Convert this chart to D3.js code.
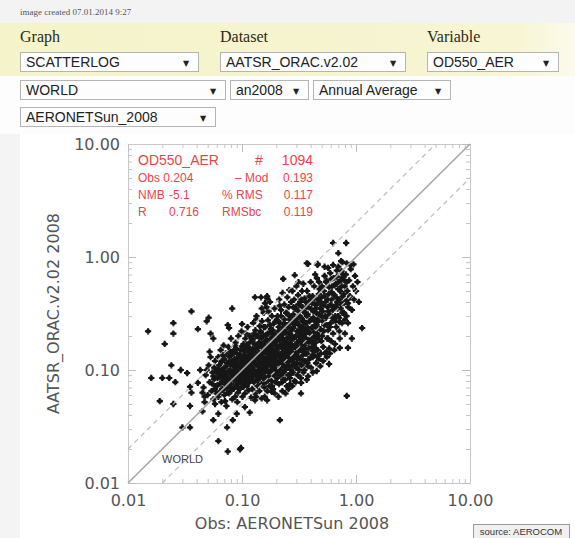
<!DOCTYPE html>
<html>
<head>
<meta charset="utf-8">
<script src="https://cdn.jsdelivr.net/npm/d3@7"></script>
<style>
  html, body { margin: 0; padding: 0; background: #f4f4f4; }
  svg { display: block; }
</style>
</head>
<body>
<div id="chart"></div>
<script>
// Header form values
const createdText = "image created 07.01.2014 9:27";
const headerLabels = ["Graph", "Dataset", "Variable"];
const row1Options = ["SCATTERLOG", "AATSR_ORAC.v2.02", "OD550_AER"];
const row2Options = ["WORLD", "an2008", "Annual Average"];
const row3Options = ["AERONETSun_2008"];

// Axis ticks
const majorTicks = [0.01, 0.1, 1, 10];
const tickLabels = ["0.01", "0.10", "1.00", "10.00"];
const xTitle = "Obs: AERONETSun 2008";
const yTitle = "AATSR_ORAC.v2.02 2008";
const regionName = "WORLD";

// Statistics box
const statsTitle = ["OD550_AER", "#", "1094"];
const statsLines = [
    ["Obs 0.204", "", "\u2013 Mod", "0.193"],
    ["NMB", "-5.1", "% RMS", "0.117"],
    ["R", "0.716", "RMSbc", "0.119"]
];

// Scattered points away from the main cloud [obs, mod]
const haloPoints = [
    [0.015,0.22],[0.025,0.26],[0.025,0.21],[0.021,0.17],[0.036,0.33],[0.041,0.23],[0.051,0.29],
    [0.049,0.27],[0.053,0.21],[0.056,0.19],[0.082,0.35],[0.075,0.25],[0.077,0.235],[0.1,0.255],
    [0.13,0.44],[0.147,0.44],[0.166,0.43],[0.159,0.39],[0.149,0.35],[0.133,0.28],[0.23,0.64],
    [0.29,0.69],[0.38,0.87],[0.46,0.87],[0.63,1.33],[0.82,1.33],[0.7,1.08],[0.74,0.92],
    [0.37,0.88],[0.46,0.85],[0.53,0.82],[0.63,0.85],[0.89,0.85],[0.77,0.66],[0.83,0.6],
    [0.85,0.42],[0.85,0.39],[0.8,0.28],[0.85,0.26],[0.72,0.265],[1.13,0.235],[0.26,0.51],
    [0.166,0.45],[0.57,0.19],[0.92,0.19],[0.455,0.235],
    [0.016,0.085],[0.02,0.085],[0.023,0.085],[0.019,0.053],[0.025,0.05],[0.03,0.031],
    [0.035,0.031],[0.062,0.0235],[0.062,0.041],[0.074,0.031],[0.215,0.036],[0.098,0.0204],
    [0.035,0.048],[0.045,0.043],[0.056,0.036],[0.075,0.019],[0.096,0.0199],[0.083,0.036],
    [0.09,0.041],[0.106,0.047],[0.117,0.042],[0.13,0.054],[0.149,0.056],[0.83,0.059],
    [0.58,0.113],[0.55,0.144],[0.72,0.157],[0.85,0.157],[0.42,0.136],[0.46,0.133],
    [0.38,0.108],[0.37,0.082],[0.33,0.077],[0.23,0.082],[0.183,0.072],[0.183,0.064],[0.166,0.054],
    [0.024,0.11],[0.029,0.1],[0.026,0.078],[0.033,0.094],[0.035,0.071],[0.043,0.1],
    [0.041,0.077],[0.045,0.063],[0.036,0.063],[0.047,0.052]
];

// Main cloud [obs, mod]
const corePoints = [
    [0.046,0.07],[0.048,0.09],[0.05,0.06],[0.051,0.11],[0.052,0.078],[0.053,0.13],[0.054,0.065],
    [0.055,0.095],[0.056,0.055],[0.057,0.083],[0.058,0.12],[0.059,0.072],[0.06,0.1],[0.06,0.062],
    [0.049,0.1],[0.055,0.075],[0.058,0.05],[0.047,0.058],[0.052,0.145],[0.057,0.105],
    [0.061,0.085],[0.062,0.13],[0.062,0.058],[0.063,0.11],[0.064,0.075],[0.065,0.15],[0.065,0.095],
    [0.066,0.052],[0.067,0.068],[0.067,0.12],[0.068,0.088],[0.069,0.165],[0.07,0.105],[0.07,0.06],
    [0.071,0.078],[0.072,0.14],[0.072,0.095],[0.073,0.048],[0.074,0.115],[0.074,0.07],[0.063,0.092],
    [0.068,0.135],[0.071,0.053],[0.066,0.1],[0.069,0.082],
    [0.076,0.085],[0.076,0.16],[0.077,0.062],[0.078,0.12],[0.079,0.1],[0.08,0.075],[0.08,0.19],
    [0.081,0.135],[0.082,0.055],[0.082,0.092],[0.083,0.11],[0.084,0.068],[0.085,0.15],[0.085,0.082],
    [0.086,0.125],[0.087,0.058],[0.088,0.1],[0.088,0.175],[0.089,0.072],[0.09,0.14],[0.09,0.088],
    [0.091,0.115],[0.092,0.063],[0.093,0.2],[0.093,0.095],[0.094,0.078],[0.094,0.13],[0.079,0.145],
    [0.084,0.098],[0.087,0.165],[0.091,0.052],[0.078,0.07],[0.086,0.107],
    [0.096,0.105],[0.096,0.068],[0.097,0.15],[0.098,0.085],[0.099,0.22],[0.1,0.12],[0.1,0.075],
    [0.101,0.058],[0.102,0.095],[0.103,0.17],[0.104,0.135],[0.105,0.08],[0.105,0.11],[0.106,0.062],
    [0.107,0.19],[0.108,0.1],[0.109,0.145],[0.11,0.072],[0.11,0.125],[0.111,0.088],[0.112,0.24],
    [0.113,0.16],[0.114,0.066],[0.115,0.105],[0.115,0.135],[0.116,0.078],[0.117,0.2],[0.118,0.092],
    [0.119,0.118],[0.12,0.057],[0.12,0.15],[0.099,0.128],[0.103,0.092],[0.108,0.21],[0.113,0.082],
    [0.117,0.175],[0.106,0.155],[0.111,0.098],
    [0.121,0.085],[0.122,0.125],[0.122,0.19],[0.123,0.068],[0.124,0.105],[0.125,0.26],[0.126,0.145],
    [0.127,0.078],[0.128,0.115],[0.129,0.17],[0.13,0.095],[0.13,0.062],[0.131,0.225],[0.132,0.135],
    [0.133,0.088],[0.134,0.3],[0.135,0.11],[0.136,0.155],[0.137,0.072],[0.138,0.2],[0.139,0.1],
    [0.14,0.125],[0.14,0.085],[0.141,0.175],[0.142,0.065],[0.143,0.245],[0.144,0.14],[0.145,0.095],
    [0.146,0.115],[0.147,0.19],[0.148,0.075],[0.149,0.16],[0.15,0.27],[0.15,0.105],[0.124,0.155],
    [0.128,0.21],[0.133,0.058],[0.137,0.13],[0.142,0.098],[0.146,0.215],[0.126,0.098],[0.139,0.082],
    [0.144,0.165],
    [0.152,0.13],[0.153,0.085],[0.154,0.2],[0.155,0.32],[0.156,0.11],[0.157,0.07],[0.158,0.165],
    [0.159,0.095],[0.16,0.24],[0.161,0.14],[0.162,0.078],[0.163,0.12],[0.164,0.36],[0.165,0.185],
    [0.166,0.1],[0.167,0.065],[0.168,0.15],[0.169,0.275],[0.17,0.088],[0.171,0.125],[0.172,0.21],
    [0.173,0.11],[0.174,0.072],[0.175,0.17],[0.176,0.4],[0.177,0.135],[0.178,0.095],[0.179,0.23],
    [0.18,0.155],[0.181,0.08],[0.182,0.118],[0.183,0.3],[0.184,0.19],[0.185,0.1],[0.186,0.14],
    [0.187,0.068],[0.188,0.255],[0.189,0.165],[0.19,0.09],[0.191,0.125],[0.192,0.2],[0.193,0.35],
    [0.194,0.11],[0.195,0.145],[0.196,0.078],[0.197,0.18],[0.198,0.27],[0.199,0.1],[0.2,0.13],
    [0.158,0.058],[0.171,0.33],[0.183,0.215],[0.194,0.062],[0.162,0.205],[0.178,0.12],[0.189,0.105],
    [0.202,0.165],[0.204,0.085],[0.205,0.3],[0.207,0.115],[0.208,0.22],[0.21,0.14],[0.211,0.075],
    [0.212,0.42],[0.213,0.185],[0.215,0.1],[0.216,0.26],[0.218,0.13],[0.219,0.09],[0.22,0.34],
    [0.221,0.16],[0.223,0.205],[0.224,0.11],[0.225,0.078],[0.227,0.48],[0.228,0.145],[0.229,0.24],
    [0.231,0.12],[0.232,0.095],[0.233,0.18],[0.235,0.38],[0.236,0.28],[0.237,0.135],[0.239,0.082],
    [0.24,0.215],[0.242,0.105],[0.243,0.155],[0.244,0.32],[0.246,0.125],[0.247,0.19],[0.248,0.072],
    [0.25,0.44],[0.251,0.25],[0.253,0.11],[0.254,0.17],[0.255,0.09],[0.257,0.36],[0.258,0.14],
    [0.259,0.21],[0.261,0.3],[0.262,0.12],[0.263,0.085],[0.265,0.19],[0.266,0.26],[0.268,0.1],
    [0.269,0.155],[0.27,0.4],[0.209,0.058],[0.226,0.065],[0.241,0.062],[0.256,0.068],[0.214,0.37],
    [0.234,0.225],[0.252,0.135],[0.264,0.075],[0.217,0.195],
    [0.272,0.17],[0.274,0.23],[0.275,0.11],[0.277,0.5],[0.279,0.14],[0.28,0.095],[0.282,0.31],
    [0.284,0.19],[0.285,0.125],[0.287,0.42],[0.289,0.08],[0.29,0.25],[0.292,0.16],[0.294,0.105],
    [0.295,0.35],[0.297,0.2],[0.298,0.135],[0.3,0.55],[0.302,0.28],[0.304,0.115],[0.305,0.175],
    [0.307,0.09],[0.309,0.22],[0.31,0.46],[0.312,0.145],[0.314,0.33],[0.316,0.1],[0.318,0.25],
    [0.32,0.185],[0.322,0.125],[0.324,0.4],[0.326,0.155],[0.328,0.085],[0.33,0.29],[0.332,0.21],
    [0.334,0.11],[0.336,0.5],[0.338,0.17],[0.34,0.36],[0.342,0.135],[0.344,0.24],[0.346,0.095],
    [0.348,0.195],[0.35,0.27],[0.352,0.12],[0.354,0.43],[0.356,0.155],[0.358,0.32],[0.36,0.21],
    [0.276,0.072],[0.296,0.078],[0.313,0.6],[0.329,0.062],[0.345,0.58],[0.283,0.36],[0.301,0.165],
    [0.319,0.38],[0.337,0.23],[0.353,0.1],[0.288,0.27],
    [0.363,0.14],[0.366,0.26],[0.369,0.18],[0.372,0.5],[0.375,0.115],[0.378,0.31],[0.381,0.22],
    [0.384,0.155],[0.387,0.4],[0.39,0.125],[0.393,0.27],[0.396,0.19],[0.4,0.6],[0.403,0.105],
    [0.406,0.345],[0.41,0.235],[0.413,0.16],[0.416,0.45],[0.42,0.13],[0.423,0.29],[0.426,0.2],
    [0.43,0.55],[0.433,0.145],[0.436,0.38],[0.44,0.25],[0.443,0.175],[0.446,0.115],[0.45,0.32],
    [0.454,0.65],[0.457,0.21],[0.46,0.15],[0.464,0.42],[0.468,0.27],[0.472,0.125],[0.476,0.185],
    [0.48,0.52],[0.484,0.35],[0.488,0.23],[0.492,0.14],[0.496,0.3],[0.5,0.44],[0.38,0.088],
    [0.418,0.095],[0.452,0.098],[0.486,0.108],[0.399,0.41],[0.438,0.7],[0.474,0.6],[0.367,0.36],
    [0.425,0.17],
    [0.505,0.2],[0.51,0.33],[0.516,0.16],[0.522,0.5],[0.528,0.25],[0.534,0.14],[0.54,0.4],
    [0.546,0.29],[0.552,0.62],[0.558,0.19],[0.564,0.36],[0.57,0.225],[0.576,0.47],[0.582,0.155],
    [0.588,0.31],[0.594,0.72],[0.6,0.26],[0.606,0.18],[0.612,0.42],[0.618,0.55],[0.624,0.34],
    [0.63,0.21],[0.636,0.65],[0.642,0.28],[0.648,0.46],[0.654,0.17],[0.66,0.37],[0.666,0.58],
    [0.672,0.24],[0.678,0.76],[0.515,0.12],[0.555,0.13],[0.59,0.14],[0.645,0.15],[0.53,0.68],
    [0.57,0.8],[0.61,0.49],[0.657,0.3],
    [0.685,0.4],[0.695,0.3],[0.705,0.6],[0.715,0.22],[0.725,0.5],[0.735,0.35],[0.745,0.75],
    [0.755,0.26],[0.765,0.45],[0.775,0.63],[0.785,0.32],[0.795,0.55],[0.805,0.4],[0.815,0.7],
    [0.825,0.3],[0.84,0.5],[0.855,0.36],[0.87,0.62],[0.885,0.45],[0.9,0.78],[0.92,0.34],
    [0.94,0.55],[0.96,0.42],[0.98,0.68],[1.0,0.5],[1.03,0.6],[1.06,0.4],[0.7,0.82],
    [0.76,0.9],[0.83,0.88],[0.95,0.86],[0.72,0.19],[0.8,0.21]
];

// Densest part of the cloud [obs, mod]
const densePoints = [
    [0.056,0.088],[0.058,0.068],[0.059,0.095],[0.061,0.074],[0.062,0.102],[0.064,0.064],[0.064,0.086],
    [0.066,0.118],[0.067,0.079],[0.068,0.097],[0.069,0.067],[0.07,0.125],[0.071,0.09],[0.072,0.074],
    [0.073,0.108],[0.074,0.085],[0.075,0.063],[0.076,0.098],[0.077,0.132],[0.078,0.08],[0.079,0.113],
    [0.08,0.092],[0.081,0.066],[0.082,0.12],
    [0.083,0.087],[0.084,0.142],[0.085,0.07],[0.086,0.094],[0.087,0.118],[0.088,0.082],[0.089,0.155],
    [0.09,0.104],[0.091,0.076],[0.092,0.128],[0.093,0.088],[0.094,0.11],[0.095,0.068],[0.096,0.137],
    [0.097,0.093],[0.098,0.115],[0.099,0.079],[0.1,0.162],[0.101,0.1],[0.102,0.125],[0.103,0.071],
    [0.104,0.108],[0.105,0.145],[0.106,0.086],[0.107,0.119],[0.108,0.074],[0.109,0.098],[0.11,0.168],
    [0.111,0.13],[0.112,0.092],[0.113,0.112],[0.114,0.077],[0.115,0.15],[0.116,0.1],[0.117,0.124],
    [0.118,0.083],[0.119,0.14],[0.12,0.105],
    [0.121,0.118],[0.123,0.09],[0.124,0.185],[0.125,0.132],[0.127,0.1],[0.128,0.079],[0.13,0.152],
    [0.131,0.115],[0.133,0.2],[0.134,0.093],[0.135,0.128],[0.137,0.165],[0.138,0.082],[0.14,0.108],
    [0.141,0.142],[0.143,0.118],[0.144,0.09],[0.146,0.22],[0.147,0.135],[0.149,0.102],[0.15,0.17],
    [0.152,0.116],[0.153,0.088],[0.155,0.145],[0.156,0.24],[0.158,0.124],[0.159,0.098],[0.161,0.18],
    [0.162,0.108],[0.164,0.155],[0.165,0.082],[0.167,0.128],[0.168,0.21],[0.17,0.112],[0.171,0.16],
    [0.173,0.095],[0.174,0.138],[0.176,0.25],[0.177,0.118],[0.179,0.19],[0.18,0.1],
    [0.182,0.145],[0.184,0.128],[0.186,0.225],[0.188,0.108],[0.19,0.172],[0.192,0.135],[0.194,0.092],
    [0.196,0.205],[0.198,0.152],[0.2,0.118],[0.202,0.28],[0.204,0.185],[0.206,0.135],[0.208,0.098],
    [0.21,0.24],[0.212,0.158],[0.214,0.122],[0.216,0.2],[0.218,0.105],[0.22,0.3],[0.222,0.17],
    [0.224,0.138],[0.226,0.228],[0.228,0.112],[0.23,0.19],[0.232,0.155],[0.234,0.26],[0.236,0.125],
    [0.238,0.165],[0.24,0.1],[0.242,0.215],[0.244,0.142],[0.246,0.32],[0.248,0.175],[0.25,0.118],
    [0.252,0.24],[0.254,0.15],[0.256,0.195],[0.258,0.108],[0.26,0.28],[0.262,0.165],[0.264,0.13],
    [0.266,0.22],[0.268,0.092],[0.27,0.185],[0.272,0.145],[0.274,0.3],[0.276,0.2],[0.278,0.125],
    [0.282,0.235],[0.285,0.16],[0.288,0.115],[0.29,0.35],[0.293,0.195],[0.296,0.14],[0.299,0.265],
    [0.302,0.105],[0.305,0.22],[0.308,0.16],[0.311,0.38],[0.314,0.128],[0.317,0.2],[0.32,0.3],
    [0.323,0.15],[0.326,0.24],[0.329,0.112],[0.332,0.42],[0.335,0.18],[0.338,0.27],[0.341,0.2],
    [0.344,0.145],[0.347,0.33],[0.35,0.225],[0.353,0.165],[0.356,0.12],[0.359,0.26],[0.362,0.4],
    [0.366,0.19],[0.37,0.3],[0.374,0.14],[0.378,0.235],[0.382,0.36],[0.386,0.175],[0.39,0.45],
    [0.394,0.21],[0.398,0.128],[0.402,0.28],[0.406,0.18],[0.41,0.39],[0.414,0.24],[0.418,0.148],
    [0.422,0.33],[0.426,0.215],[0.43,0.43],[0.434,0.27],[0.438,0.19],[0.442,0.35],[0.446,0.155],
    [0.45,0.25],
    [0.455,0.38],[0.46,0.28],[0.466,0.2],[0.472,0.47],[0.478,0.31],[0.484,0.23],[0.49,0.4],
    [0.496,0.18],[0.502,0.55],[0.508,0.27],[0.515,0.37],[0.522,0.22],[0.53,0.45],[0.538,0.3],
    [0.546,0.6],[0.554,0.25],[0.562,0.42],[0.57,0.33],[0.58,0.54],[0.59,0.24],[0.6,0.38],
    [0.61,0.64],[0.62,0.29],[0.63,0.47],[0.64,0.36],[0.65,0.56],[0.66,0.27],[0.67,0.44],
    [0.68,0.67],[0.69,0.35],[0.7,0.52],[0.71,0.29],[0.72,0.42],[0.73,0.62],[0.74,0.38],
    [0.75,0.55],[0.76,0.32],[0.77,0.7],[0.78,0.47],[0.79,0.39]
];

const W = 575, H = 538;
const plot = { left: 128, right: 470, top: 144, bottom: 483 };

const svg = d3.select("#chart")
    .append("svg")
    .attr("width", W)
    .attr("height", H);

// ---- page header ----
const defs = svg.append("defs");
const grad = defs.append("linearGradient").attr("id", "band");
grad.append("stop").attr("offset", "0%").attr("stop-color", "#f5f3c9");
grad.append("stop").attr("offset", "90%").attr("stop-color", "#f7f5d3");
grad.append("stop").attr("offset", "100%").attr("stop-color", "#fbfbec");
defs.append("filter").attr("id", "soft")
    .append("feGaussianBlur").attr("stdDeviation", 0.45);

svg.append("rect").attr("x", 0).attr("y", 0).attr("width", W).attr("height", 23).attr("fill", "#f3f3f3");
svg.append("rect").attr("x", 0).attr("y", 23).attr("width", W).attr("height", 53).attr("fill", "url(#band)");
svg.append("rect").attr("x", 0).attr("y", 76).attr("width", W).attr("height", 58).attr("fill", "#fdfdfd");
svg.append("rect").attr("x", 20).attr("y", 134).attr("width", W - 20).attr("height", H - 134).attr("fill", "#ffffff");

svg.append("text")
    .attr("x", 20).attr("y", 15)
    .style("font-family", "Liberation Serif, serif")
    .style("font-size", "9px")
    .attr("fill", "#555")
    .text(createdText);

const labelX = [20, 220, 427];
svg.selectAll(".hlabel")
    .data(headerLabels)
    .enter().append("text")
    .attr("class", "hlabel")
    .attr("x", (d, i) => labelX[i])
    .attr("y", 42)
    .style("font-family", "Liberation Serif, serif")
    .style("font-size", "16px")
    .attr("fill", "#2a2a1a")
    .text(d => d);

// select-like boxes: [text, x0, x1, top]
const selects = [
    [row1Options[0], 20, 198, 52],
    [row1Options[1], 220, 405, 52],
    [row1Options[2], 427, 558, 52],
    [row2Options[0], 20, 225, 80],
    [row2Options[1], 230, 308, 80],
    [row2Options[2], 313, 450, 80],
    [row3Options[0], 20, 215, 107]
];
const sel = svg.selectAll(".sel")
    .data(selects)
    .enter().append("g")
    .attr("class", "sel");
sel.append("rect")
    .attr("x", d => d[1] + 0.5)
    .attr("y", d => d[3] + 0.5)
    .attr("width", d => d[2] - d[1])
    .attr("height", 19)
    .attr("fill", "#fdfdfd")
    .attr("stroke", "#b5b5b5");
sel.append("text")
    .attr("x", d => d[1] + 6)
    .attr("y", d => d[3] + 15)
    .style("font-family", "Liberation Sans, Arial, sans-serif")
    .style("font-size", "14px")
    .attr("fill", "#222")
    .text(d => d[0]);
sel.append("text")
    .attr("x", d => d[2] - 12)
    .attr("y", d => d[3] + 14)
    .attr("text-anchor", "middle")
    .style("font-family", "DejaVu Sans, sans-serif")
    .style("font-size", "8px")
    .attr("fill", "#222")
    .text("\u25BC");

// ---- scatter plot ----
const x = d3.scaleLog().domain([0.01, 10]).range([plot.left, plot.right]);
const y = d3.scaleLog().domain([0.01, 10]).range([plot.bottom, plot.top]);
const minorTicks = x.ticks().filter(v => !majorTicks.some(m => Math.abs(m - v) < 1e-9));

const axisFont = "DejaVu Sans, sans-serif";

function styleAxis(g) {
    g.select(".domain").attr("stroke", "#c8c8c8");
    g.selectAll(".tick line").attr("stroke", "#bdbdbd");
    g.selectAll(".tick text")
        .style("font-family", axisFont)
        .style("font-size", "16px")
        .attr("fill", "#555");
}

// major ticks + labels
svg.append("g")
    .attr("transform", `translate(0,${plot.bottom})`)
    .call(d3.axisBottom(x).tickValues(majorTicks).tickFormat((d, i) => tickLabels[i])
        .tickSize(-8).tickSizeOuter(0).tickPadding(12))
    .call(styleAxis);
svg.append("g")
    .attr("transform", `translate(${plot.left},0)`)
    .call(d3.axisLeft(y).tickValues(majorTicks).tickFormat((d, i) => tickLabels[i])
        .tickSize(-8).tickSizeOuter(0).tickPadding(8))
    .call(styleAxis);
svg.append("g")
    .attr("transform", `translate(0,${plot.top})`)
    .call(d3.axisTop(x).tickValues(majorTicks).tickFormat("").tickSize(-8).tickSizeOuter(0))
    .call(styleAxis);
svg.append("g")
    .attr("transform", `translate(${plot.right},0)`)
    .call(d3.axisRight(y).tickValues(majorTicks).tickFormat("").tickSize(-8).tickSizeOuter(0))
    .call(styleAxis);

// minor ticks on all four sides
[[d3.axisBottom(x), `translate(0,${plot.bottom})`],
 [d3.axisTop(x), `translate(0,${plot.top})`],
 [d3.axisLeft(y), `translate(${plot.left},0)`],
 [d3.axisRight(y), `translate(${plot.right},0)`]].forEach(([ax, tr]) => {
    svg.append("g")
        .attr("transform", tr)
        .call(ax.tickValues(minorTicks).tickFormat("").tickSize(-4).tickSizeOuter(0))
        .call(g => g.select(".domain").remove())
        .call(g => g.selectAll(".tick line").attr("stroke", "#c4c4c4"));
});

// points: fat plus with a round core
const markerPath = d3.symbol().type(d3.symbolCross).size(22)() +
    d3.symbol().type(d3.symbolCircle).size(17)();
svg.append("g")
    .attr("filter", "url(#soft)")
    .selectAll("path")
    .data(haloPoints.concat(corePoints, densePoints))
    .enter().append("path")
    .attr("d", markerPath)
    .attr("transform", d => `translate(${x(d[0])},${y(d[1])})`)
    .attr("fill", "#151515");

// 1:1 and factor-2 lines (drawn over the points)
const lines = [
    { from: [0.01, 0.01], to: [10, 10], dash: null, color: "#a8a8a8", w: 1.6 },
    { from: [0.01, 0.02], to: [5, 10], dash: "5,4", color: "#bdbdbd", w: 1.2 },
    { from: [0.02, 0.01], to: [10, 5], dash: "5,4", color: "#bdbdbd", w: 1.2 }
];
svg.append("g")
    .selectAll("line")
    .data(lines)
    .enter().append("line")
    .attr("x1", d => x(d.from[0])).attr("y1", d => y(d.from[1]))
    .attr("x2", d => x(d.to[0])).attr("y2", d => y(d.to[1]))
    .attr("stroke", d => d.color)
    .attr("stroke-width", d => d.w)
    .attr("stroke-dasharray", d => d.dash);

// region label
svg.append("text")
    .attr("x", 162).attr("y", 463)
    .style("font-family", "Liberation Sans, Arial, sans-serif")
    .style("font-size", "11px")
    .attr("fill", "#444")
    .text(regionName);

// stats in red
const red = "#ec4448";
const stats = svg.append("g")
    .style("font-family", "Liberation Sans, Arial, sans-serif")
    .attr("fill", red);
stats.append("text").attr("x", 138).attr("y", 165).style("font-size", "14px").text(statsTitle[0]);
stats.append("text").attr("x", 255).attr("y", 165).style("font-size", "14px").text(statsTitle[1]);
stats.append("text").attr("x", 313).attr("y", 165).attr("text-anchor", "end").style("font-size", "14px").text(statsTitle[2]);
const colX = [138, 169, 222, 313];
statsLines.forEach((row, r) => {
    const yy = 182 + r * 17;
    row.forEach((t, c) => {
        if (!t) return;
        stats.append("text")
            .attr("x", c === 2 && r === 0 ? 235 : colX[c])
            .attr("y", yy)
            .attr("text-anchor", c === 3 ? "end" : "start")
            .style("font-size", "12px")
            .text(t);
    });
});

// axis titles
svg.append("text")
    .attr("x", 292).attr("y", 529)
    .attr("text-anchor", "middle")
    .style("font-family", axisFont)
    .style("font-size", "16px")
    .attr("fill", "#555")
    .text(xTitle);

svg.append("text")
    .attr("transform", `translate(59,${(plot.top + plot.bottom) / 2}) rotate(-90)`)
    .attr("text-anchor", "middle")
    .style("font-family", axisFont)
    .style("font-size", "16px")
    .attr("fill", "#555")
    .text(yTitle);

// source tag
svg.append("rect")
    .attr("x", 473.5).attr("y", 524.5).attr("width", 96).attr("height", 14)
    .attr("fill", "#f0f0f0").attr("stroke", "#9a9a9a");
svg.append("text")
    .attr("x", 521).attr("y", 535)
    .attr("text-anchor", "middle")
    .style("font-family", "Liberation Sans, Arial, sans-serif")
    .style("font-size", "9.5px")
    .attr("fill", "#333")
    .text("source: AEROCOM");
</script>
</body>
</html>
